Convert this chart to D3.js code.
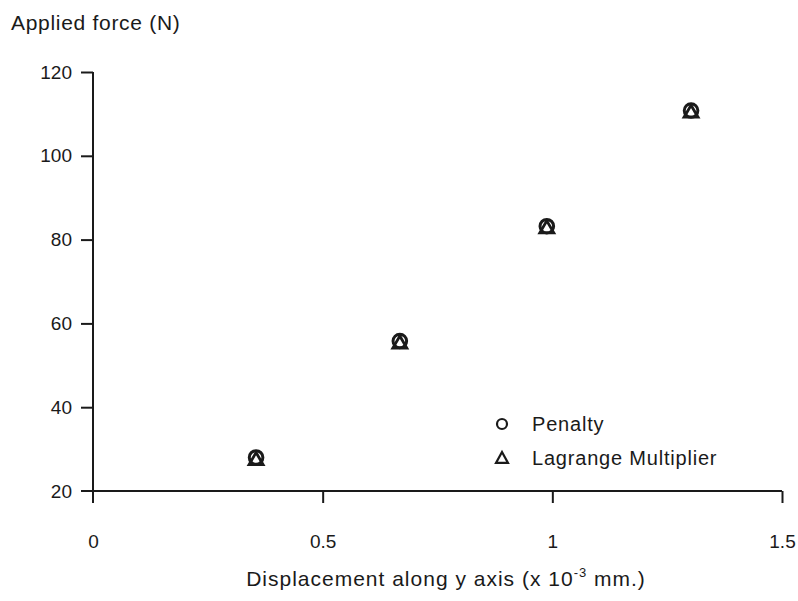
<!DOCTYPE html>
<html><head><meta charset="utf-8">
<script src="https://cdn.jsdelivr.net/npm/d3@7"></script>
<style>
body{margin:0;background:#fff;}
text{font-family:"Liberation Sans",Arial,Helvetica,sans-serif;fill:#1a1a1a;}
</style></head>
<body><svg id="c" width="798" height="601"></svg>
<script>
const displacement = [0.355, 0.668, 0.988, 1.302];
const penalty = [28.0, 55.8, 83.2, 110.8];
const lagrange = [27.6, 55.4, 82.9, 110.5];
const xTicks = [0, 0.5, 1, 1.5];
const xTickLabels = ["0", "0.5", "1", "1.5"];
const yTicks = [20, 40, 60, 80, 100, 120];
const seriesNames = ["Penalty", "Lagrange Multiplier"];

const svg = d3.select("#c");
const x = d3.scaleLinear().domain([0, 1.5]).range([93, 782]);
const y = d3.scaleLinear().domain([20, 120]).range([491, 72]);
const ink = "#1a1a1a";

// Y axis
const yAxis = svg.append("g").attr("transform", `translate(${x(0)},0)`)
  .call(d3.axisLeft(y).tickValues(yTicks).tickSize(12).tickPadding(9).tickFormat(d3.format("d")));
yAxis.select(".domain").attr("d", `M0,${y(120)}V${y(20) + 12}`);
// X axis
const xAxis = svg.append("g").attr("transform", `translate(0,${y(20)})`)
  .call(d3.axisBottom(x).tickValues(xTicks).tickSize(12).tickPadding(32).tickFormat((d, i) => xTickLabels[i]));
xAxis.select(".domain").attr("d", `M${x(0) - 12},0H${x(1.5)}`);
xAxis.selectAll(".tick").filter(d => d === 0).select("line").remove();
yAxis.selectAll(".tick").filter(d => d === 20).select("line").remove();
xAxis.selectAll(".tick text").attr("dy", "0.71em");
[yAxis, xAxis].forEach(g => {
  g.selectAll("path,line").attr("stroke", ink).attr("stroke-width", 2);
  g.selectAll("text").attr("font-size", 19).attr("font-family", '"Liberation Sans",Arial,sans-serif').attr("fill", ink);
});

// Axis titles
svg.append("text").attr("x", 11).attr("y", 30).attr("font-size", 21).attr("letter-spacing", 0.7).text("Applied force (N)");
const xt = svg.append("text").attr("x", 446).attr("y", 586).attr("text-anchor", "middle")
  .attr("font-size", 21).attr("letter-spacing", 1.0);
xt.append("tspan").text("Displacement along y axis (x 10");
xt.append("tspan").attr("dy", -9).attr("font-size", 13).text("-3");
xt.append("tspan").attr("dy", 9).text(" mm.)");

// Markers
const triPath = (s, h) => `M0,${-h * 0.55}L${s / 2},${h * 0.45}L${-s / 2},${h * 0.45}Z`;
svg.append("g").selectAll("circle").data(displacement).join("circle")
  .attr("cx", d => x(d)).attr("cy", (d, i) => y(penalty[i])).attr("r", 6.8)
  .attr("fill", "none").attr("stroke", ink).attr("stroke-width", 3);
svg.append("g").selectAll("path").data(displacement).join("path")
  .attr("transform", (d, i) => `translate(${x(d)},${y(lagrange[i])})`)
  .attr("d", triPath(14, 12))
  .attr("fill", "none").attr("stroke", ink).attr("stroke-width", 2.8).attr("stroke-linejoin", "miter");

// Legend
const leg = svg.append("g");
leg.append("circle").attr("cx", 502).attr("cy", 424).attr("r", 5)
  .attr("fill", "none").attr("stroke", ink).attr("stroke-width", 2.2);
leg.append("path").attr("transform", "translate(502,458)").attr("d", triPath(12, 11))
  .attr("fill", "none").attr("stroke", ink).attr("stroke-width", 2.2);
leg.append("text").attr("x", 532).attr("y", 431).attr("font-size", 20).attr("letter-spacing", 0.8).text(seriesNames[0]);
leg.append("text").attr("x", 532).attr("y", 465).attr("font-size", 20).attr("letter-spacing", 0.8).text(seriesNames[1]);
</script></body></html>
